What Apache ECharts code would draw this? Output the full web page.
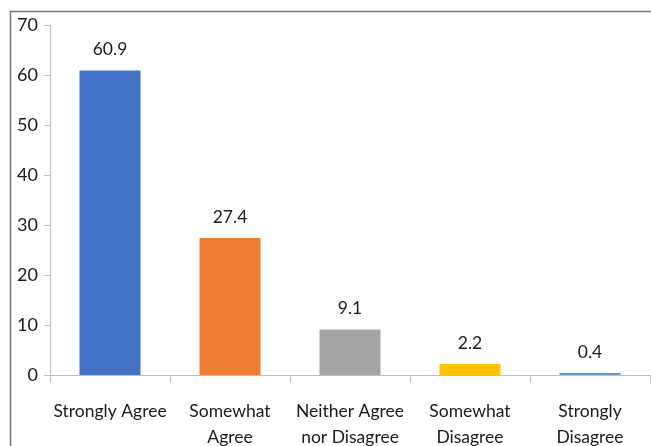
<!DOCTYPE html>
<html><head><meta charset="utf-8">
<script src="https://cdn.jsdelivr.net/npm/echarts@6/dist/echarts.min.js"></script>
<style>html,body{margin:0;padding:0;background:#fff}#c{width:651px;height:446px}</style>
</head><body><div id="c"></div>
<script>
const categories = ["Strongly Agree", "Somewhat\nAgree", "Neither Agree\nnor Disagree", "Somewhat\nDisagree", "Strongly\nDisagree"];
const values = [60.9, 27.4, 9.1, 2.2, 0.4];
const colors = ["#4472C4", "#ED7D31", "#A5A5A5", "#FFC000", "#5B9BD5"];
const yTicks = { min: 0, max: 70, interval: 10 };

const chart = echarts.init(document.getElementById('c'), null, {renderer: 'canvas'});
const font = 'Lato, "Open Sans", sans-serif';
chart.setOption({
  animation: false,
  graphic: [{
    type: 'rect', shape: {x: 10.5, y: 11.5, width: 700, height: 500},
    style: {fill: 'none', stroke: '#777', lineWidth: 1.5}, silent: true
  }],
  grid: {left: 50, right: 1, top: 25, bottom: 71, containLabel: false, outerBoundsMode: 'none'},
  xAxis: {
    type: 'category', data: categories,
    axisLine: {lineStyle: {color: '#bfbfbf', width: 1}},
    axisTick: {show: true, length: 8, lineStyle: {color: '#bfbfbf'}},
    axisLabel: {color: '#1a1a1a', fontSize: 17.5, fontFamily: font, margin: 23, lineHeight: 26, interval: 0}
  },
  yAxis: {
    type: 'value', min: yTicks.min, max: yTicks.max, interval: yTicks.interval,
    axisLine: {show: true, lineStyle: {color: '#bfbfbf', width: 1}},
    axisTick: {show: true, length: 6, lineStyle: {color: '#bfbfbf'}},
    splitLine: {show: false},
    axisLabel: {color: '#1a1a1a', fontSize: 18, fontFamily: font, margin: 12}
  },
  series: [{
    type: 'bar', barWidth: 61,
    data: values.map((v, i) => ({value: v, itemStyle: {color: colors[i]}})),
    label: {show: true, position: 'top', distance: 12, color: '#1a1a1a', fontSize: 17.5, fontFamily: font,
      formatter: p => p.value.toFixed(1)}
  }]
});
</script></body></html>
